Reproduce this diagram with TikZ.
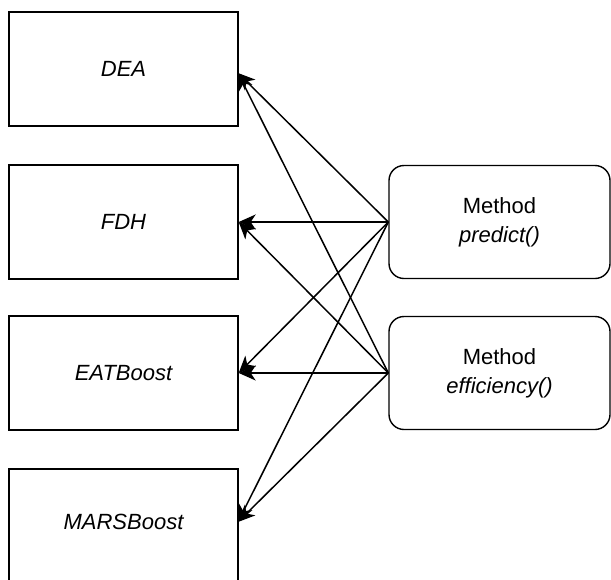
\documentclass[tikz,border=0pt]{standalone}
\usepackage{fontspec}
\setmainfont{Liberation Sans}
\usetikzlibrary{arrows.meta}
\begin{document}
\begin{tikzpicture}[x=1pt,y=-1pt,
  plainbox/.style={draw=black, line width=1.4pt, minimum width=229pt, minimum height=114pt, inner sep=0pt,
     font=\fontsize{22}{27}\selectfont\itshape},
  methodbox/.style={draw=black, line width=1.4pt, rounded corners=15pt, minimum width=221pt, minimum height=113pt,
     inner sep=0pt, align=center, font=\fontsize{22}{29}\selectfont},
  link/.style={draw=black, line width=1.5pt, -{Stealth[length=17pt,width=15pt,inset=5pt]}}]
\useasboundingbox (0,0) rectangle (611,579);
\clip (0,0) rectangle (611,579);
\node[plainbox] (dea) at (123.5,69) {DEA};
\node[plainbox] (fdh) at (123.5,222) {FDH};
\node[plainbox] (eat) at (123.5,373) {EATBoost};
\node[plainbox, minimum height=114pt] (mars) at (123.5,526) {};
\node[font=\fontsize{22}{27}\selectfont\itshape] (marst) at (123.5,522) {MARSBoost};
\node[methodbox] (pred) at (499.5,222) {Method\\\textit{predict()}};
\node[methodbox] (eff) at (499.5,373) {Method\\\textit{efficiency()}};
\coordinate (tdea) at (238,73);
\coordinate (tmars) at (238,522);
\draw[link] (pred.west) -- (tdea);
\draw[link] (pred.west) -- (fdh.east);
\draw[link] (pred.west) -- (eat.east);
\draw[link] (pred.west) -- (tmars);
\draw[link] (eff.west) -- (tdea);
\draw[link] (eff.west) -- (fdh.east);
\draw[link] (eff.west) -- (eat.east);
\draw[link] (eff.west) -- (tmars);
\end{tikzpicture}
\end{document}
